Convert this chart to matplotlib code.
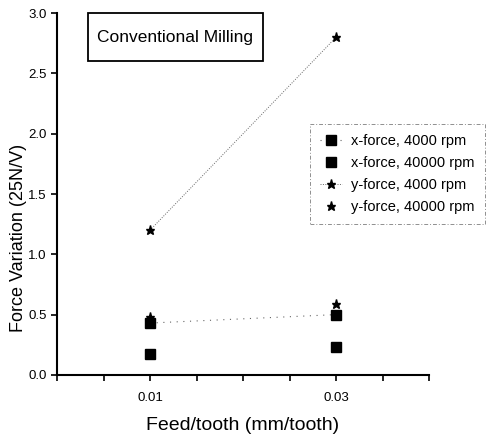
import matplotlib.pyplot as plt
from matplotlib.patches import Rectangle
import numpy as np

plt.rcParams['font.family'] = ['Liberation Sans', 'DejaVu Sans']

# feed per tooth values
feed = [0.01, 0.03]

# force variation readings
x_force_4000 = [0.43, 0.50]
x_force_40000 = [0.17, 0.23]
y_force_4000 = [1.20, 2.80]
y_force_40000 = [0.48, 0.59]

labels = ['x-force, 4000 rpm', 'x-force, 40000 rpm',
          'y-force, 4000 rpm', 'y-force, 40000 rpm']

xticks = np.arange(0.0, 0.0401, 0.005)
xtick_labels = ['0.01' if abs(t - 0.01) < 1e-9 else '0.03' if abs(t - 0.03) < 1e-9 else ''
                for t in xticks]
yticks = np.arange(0.0, 3.01, 0.5)

fig = plt.figure(figsize=(4.89, 4.40), dpi=100)
ax = fig.add_axes([0.1166, 0.148, 0.7607, 0.822])

ax.plot(feed, x_force_4000, color='0.4', ls=(0, (1, 5)), lw=0.8,
        marker='s', ms=6.5, mfc='black', mec='black', label=labels[0])
ax.plot(feed, x_force_40000, ls='none',
        marker='s', ms=6.5, mfc='black', mec='black', label=labels[1])
ax.plot(feed, y_force_4000, color='0.4', ls=(0, (1, 1.5)), lw=0.7,
        marker='*', ms=6.5, mfc='black', mec='black', label=labels[2])
ax.plot(feed, y_force_40000, ls='none',
        marker='*', ms=6.5, mfc='black', mec='black', label=labels[3])

ax.set_xlim(0.0, 0.04)
ax.set_ylim(0.0, 3.0)
ax.set_xticks(xticks)
ax.set_xticklabels(xtick_labels)
ax.set_yticks(yticks)
ax.set_yticklabels(['%.1f' % v for v in yticks])
ax.tick_params(axis='both', labelsize=9.5, length=4, width=1.2, direction='out')
ax.tick_params(axis='x', pad=8)

ax.spines['top'].set_visible(False)
ax.spines['right'].set_visible(False)
ax.spines['left'].set_linewidth(1.5)
ax.spines['bottom'].set_linewidth(1.5)

ax.set_xlabel('Feed/tooth (mm/tooth)', fontsize=14, labelpad=10)
ax.set_ylabel('Force Variation (25N/V)', fontsize=13)
ax.yaxis.set_label_coords(-0.08, 0.38)

# title box
ax.add_patch(Rectangle((0.083, 0.868), 0.47, 0.133, transform=ax.transAxes,
                       fc='white', ec='black', lw=1.3, clip_on=False, zorder=3))
ax.text(0.318, 0.934, 'Conventional Milling', transform=ax.transAxes,
        ha='center', va='center', fontsize=12.5, zorder=4)

leg = ax.legend(loc='upper left', bbox_to_anchor=(0.68, 0.694), fontsize=10.5,
                frameon=True, fancybox=False, handlelength=1.5,
                handletextpad=0.6, labelspacing=0.55, borderpad=0.7,
                borderaxespad=0)
leg.get_frame().set_edgecolor('0.45')
leg.get_frame().set_linestyle((0, (4, 2, 1, 2)))
leg.get_frame().set_linewidth(0.7)

fig.savefig('out.png', dpi=100)
